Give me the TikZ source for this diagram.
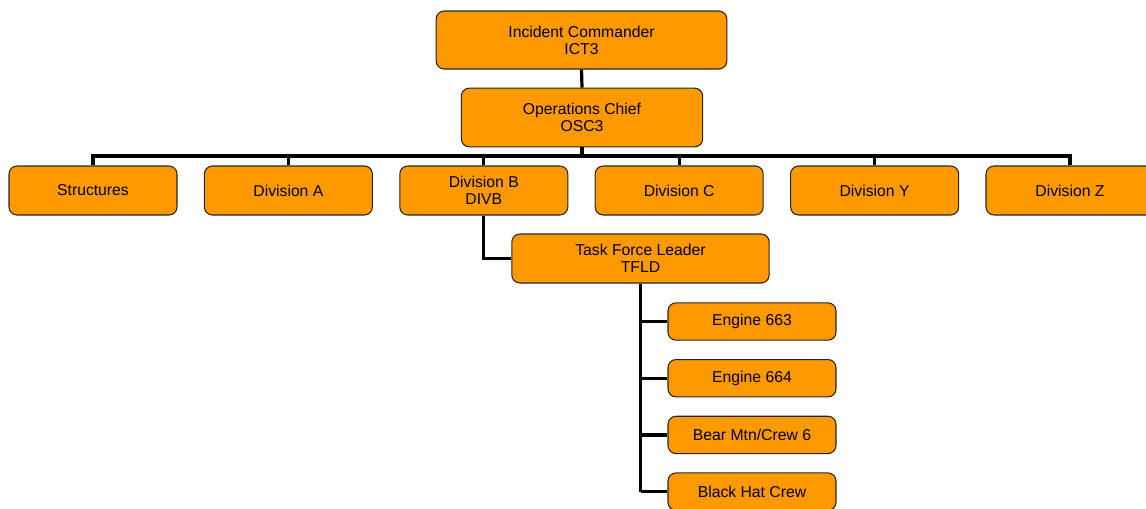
\documentclass[tikz,border=0pt]{standalone}
\usepackage{fontspec}
\setmainfont{Liberation Sans}
\usepackage{tikz}
\definecolor{boxorange}{rgb}{1.0, 0.6, 0.0}

\begin{document}
\begin{tikzpicture}[x=0.75pt, y=-0.75pt,
    box/.style={draw=black!85, line width=0.8pt, fill=boxorange, rounded corners=6pt,
      align=center, inner sep=0pt, font=\fontsize{11.8}{12.75}\selectfont},
    link/.style={line width=2.4pt, color=black}]
		  % fixes the frame
		    \useasboundingbox (0,0) rectangle (1146,508);
		    \clip (0,0) rectangle (1146,508);

		  % draws the command boxes
		    \node[box, minimum width=218pt, minimum height=43.5pt] (ic) at (581.5,40) {Incident Commander\\ICT3};
		    \node[box, minimum width=181pt, minimum height=44pt] (osc) at (582,117.5) {Operations Chief\\OSC3};

		  % draws the divisions
		    \foreach \name [count = \x] in {Structures,Division A,{Division B\\DIVB},Division C,Division Y,Division Z}
		      \node[box, minimum width=126pt, minimum height=36.75pt] (div\x) at (93 + 195.4*\x - 195.4,190.5) {\name};

		  % draws the task force
		    \node[box, minimum width=193pt, minimum height=36.75pt] (tfld) at (640.5,258.5) {Task Force Leader\\TFLD};
		    \foreach \name [count = \x] in {Engine 663,Engine 664,Bear Mtn/Crew 6,Black Hat Crew}
		      \node[box, minimum width=126pt, minimum height=28pt] (res\x) at (752,321.5 + 56.7*\x - 56.7) {\name};

		  % draws the links
		    \coordinate (busl) at (div1.north |- 0,156);
		    \coordinate (busr) at (div6.north |- 0,156);
		    \draw[link] (ic.south) -- (osc.north);
		    \draw[link] (osc.south) -- (osc.south |- busl);
		    \draw[link, line cap=rect] (busl) -- (busr);
		    \foreach \x in {1,...,6}
		      \draw[link] (div\x.north) -- (div\x.north |- busl);
		    \draw[link] (div3.south) |- (tfld.west);
		    \draw[link] (tfld.south) -- (tfld.south |- res4.west);
		    \foreach \x in {1,...,4}
		      \draw[link] (tfld.south |- res\x.west) -- (res\x.west);
	  \end{tikzpicture}
\end{document}
